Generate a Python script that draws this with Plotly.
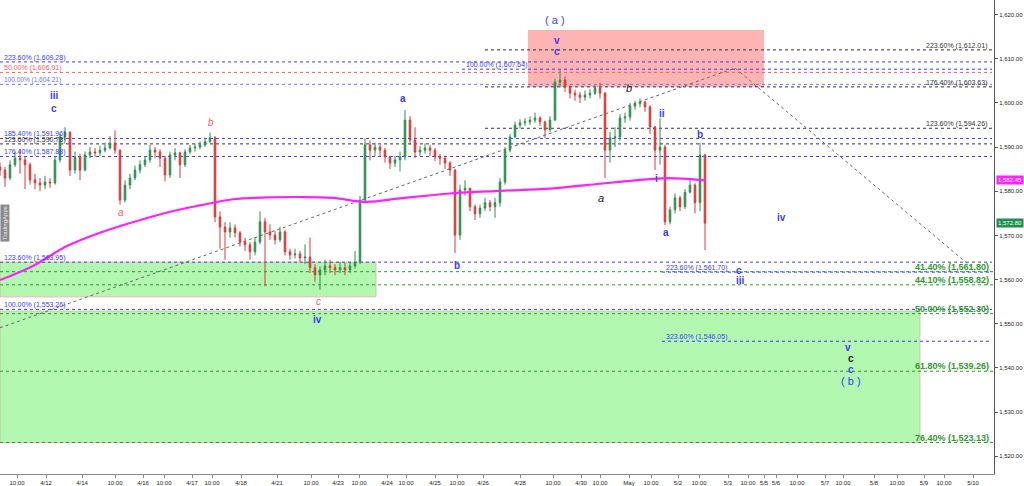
import plotly.graph_objects as go

# ---------------- data ----------------
# candle closes (bar slots every 5 units on the compressed time axis)
closes = [1584.8, 1583.0, 1586.0, 1587.5, 1587.1, 1586.0, 1582.6, 1581.9, 1581.4, 1582.1,
          1581.9, 1587.1, 1592.3, 1593.4, 1584.8, 1587.8, 1584.8, 1588.2, 1588.9, 1588.7,
          1589.3, 1589.8, 1590.9, 1589.3, 1578.0, 1581.4, 1583.0, 1584.8, 1586.0, 1587.1,
          1589.3, 1588.9, 1587.5, 1583.7, 1588.2, 1588.7, 1586.0, 1588.9, 1589.8, 1590.0,
          1590.5, 1591.2, 1592.1, 1574.2, 1571.9, 1570.8, 1571.7, 1570.6, 1568.5, 1567.9,
          1566.3, 1568.5, 1573.1, 1570.8, 1570.1, 1569.0, 1570.8, 1566.3, 1565.6, 1565.8,
          1564.9, 1565.1, 1562.7, 1561.1, 1562.2, 1563.1, 1562.7, 1562.2, 1562.7, 1562.2,
          1563.1, 1564.0, 1578.0, 1590.5, 1589.3, 1590.0, 1589.3, 1587.8, 1586.4, 1587.1,
          1587.8, 1596.1, 1591.6, 1588.9, 1589.3, 1589.8, 1589.3, 1587.8, 1587.5, 1586.4,
          1584.8, 1570.1, 1580.3, 1580.7, 1576.5, 1574.9, 1576.2, 1577.4, 1576.5, 1577.4,
          1582.1, 1589.3, 1592.3, 1595.0, 1595.5, 1595.7, 1596.1, 1596.6, 1595.7, 1593.9,
          1596.1, 1604.7, 1605.2, 1603.6, 1602.2, 1601.8, 1601.3, 1601.8, 1602.2, 1603.4,
          1602.2, 1589.3, 1592.1, 1592.3, 1596.6, 1596.8, 1599.3, 1599.8, 1600.2, 1599.1,
          1594.6, 1589.3, 1590.0, 1573.1, 1575.8, 1578.5, 1576.5, 1579.8, 1581.4, 1577.4,
          1588.2, 1572.8]
highs = [1586.5, 1585.5, 1587.0, 1589.0, 1589.5, 1588.0, 1586.5, 1584.0, 1583.0, 1583.5,
         1583.0, 1588.0, 1593.0, 1594.5, 1593.5, 1589.0, 1588.5, 1589.0, 1590.0, 1589.8,
         1590.3, 1591.0, 1592.5, 1593.8, 1589.5, 1582.5, 1584.0, 1585.8, 1587.0, 1588.0,
         1590.5, 1590.0, 1589.5, 1588.0, 1589.0, 1589.8, 1589.0, 1589.5, 1590.5, 1590.8,
         1591.3, 1592.0, 1593.3, 1592.5, 1575.5, 1573.0, 1573.0, 1572.5, 1571.0, 1569.5,
         1568.5, 1569.5, 1575.5, 1574.0, 1572.5, 1571.0, 1572.0, 1571.2, 1567.0, 1567.0,
         1566.5, 1568.0, 1569.5, 1563.5, 1563.0, 1564.5, 1564.5, 1563.5, 1564.0, 1563.8,
         1564.0, 1566.5, 1579.0, 1592.0, 1591.5, 1591.0, 1590.5, 1589.8, 1588.0, 1588.0,
         1589.0, 1598.4, 1597.0, 1594.5, 1590.3, 1590.8, 1590.5, 1589.8, 1588.5, 1588.0,
         1586.8, 1585.0, 1581.5, 1582.5, 1580.5, 1577.0, 1577.0, 1578.5, 1578.0, 1578.5,
         1583.0, 1590.0, 1593.0, 1595.8, 1596.3, 1596.5, 1597.0, 1597.8, 1597.0, 1596.0,
         1597.0, 1605.5, 1607.4, 1606.0, 1604.0, 1603.0, 1602.5, 1602.8, 1603.2, 1604.0,
         1604.5, 1602.5, 1593.5, 1594.5, 1597.5, 1597.8, 1600.0, 1600.5, 1601.0, 1600.5,
         1599.5, 1592.5, 1596.5, 1590.5, 1576.5, 1579.5, 1579.0, 1580.5, 1582.8, 1581.8,
         1591.0, 1588.5]
lows = [1583.5, 1581.0, 1582.5, 1585.5, 1584.0, 1580.5, 1581.5, 1580.5, 1580.0, 1580.5,
        1580.8, 1581.5, 1586.5, 1591.5, 1583.5, 1584.0, 1582.5, 1584.5, 1587.5, 1587.8,
        1588.0, 1588.8, 1589.5, 1588.5, 1577.0, 1577.5, 1580.5, 1582.5, 1584.0, 1585.5,
        1586.5, 1587.5, 1585.5, 1582.2, 1583.0, 1587.0, 1583.0, 1585.5, 1588.5, 1589.0,
        1589.5, 1590.0, 1591.0, 1573.0, 1567.0, 1564.5, 1569.5, 1569.5, 1567.5, 1566.5,
        1564.5, 1565.5, 1568.0, 1558.5, 1569.0, 1568.0, 1568.5, 1565.5, 1564.5, 1564.8,
        1564.0, 1563.5, 1561.5, 1559.5, 1557.7, 1561.0, 1561.5, 1561.0, 1561.5, 1561.0,
        1561.5, 1562.5, 1563.5, 1577.5, 1587.0, 1588.0, 1588.0, 1586.5, 1585.0, 1585.5,
        1584.5, 1587.0, 1590.5, 1587.5, 1588.0, 1588.5, 1588.0, 1586.8, 1586.0, 1585.0,
        1583.5, 1566.0, 1569.0, 1579.0, 1575.5, 1573.5, 1574.0, 1575.5, 1575.5, 1574.0,
        1576.5, 1581.5, 1588.8, 1592.0, 1594.2, 1594.8, 1595.0, 1595.5, 1594.8, 1592.0,
        1593.5, 1596.0, 1603.5, 1602.5, 1601.0, 1600.5, 1600.0, 1600.5, 1601.0, 1601.8,
        1601.0, 1583.0, 1586.5, 1590.0, 1591.5, 1595.5, 1596.0, 1598.5, 1599.0, 1598.0,
        1593.0, 1584.8, 1586.0, 1572.3, 1572.5, 1575.0, 1575.5, 1576.0, 1579.5, 1575.0,
        1575.5, 1566.7]
first_open = 1585.5
bar_step = 5

# moving average (magenta)
ma_x = [0, 33, 67, 100, 133, 167, 200, 233, 267, 300, 333, 367, 400, 450, 500, 550, 600, 633, 667, 705]
ma_y = [1559.9, 1563.1, 1567.6, 1570.6, 1573.0, 1575.2, 1576.8, 1578.2, 1578.6, 1578.7,
        1578.5, 1577.6, 1578.4, 1579.5, 1580.1, 1580.6, 1581.7, 1582.4, 1583.0, 1582.45]

# dotted trend lines
trend_x = [0, 735, 975]
trend_y = [1549.1, 1607.9, 1562.2]

# x-axis tick labels
tick_pos = [17, 46, 82, 115, 143, 164, 192, 212, 241, 277, 311, 338, 359, 387, 406, 435, 457, 483,
            520, 553, 581, 600, 629, 651, 678, 699, 728, 748, 764, 776, 797, 825, 843, 874, 897,
            924, 944, 973]
tick_txt = ["10:00", "4/12", "4/14", "10:00", "4/16", "10:00", "4/17", "10:00", "4/18", "4/21",
            "10:00", "4/23", "10:00", "4/24", "10:00", "4/25", "10:00", "4/26", "4/28", "10:00",
            "4/30", "10:00", "May", "10:00", "5/2", "10:00", "5/3", "10:00", "5/5", "5/6", "10:00",
            "5/7", "10:00", "5/8", "10:00", "5/9", "10:00", "5/10"]

# fibonacci levels
left_prices = [1609.28, 1606.91, 1604.21, 1591.96, 1590.73, 1587.88, 1563.95, 1553.26]
left_labels = ["223.60% (1,609.28)", "50.00% (1,606.91)", "100.00% (1,604.21)", "185.40% (1,591.96)",
               "123.60% (1,590.73)", "176.40% (1,587.88)", "123.60% (1,563.95)", "100.00% (1,553.26)"]
left_kind = ["blue", "red", "lblue", "blue", "black", "blue", "blue", "blue"]

right_prices = [1612.01, 1603.63, 1594.26]
right_labels = ["223.60% (1,612.01)", "176.40% (1,603.63)", "123.60% (1,594.26)"]

mid_prices = [1607.64, 1561.70, 1546.05]
mid_labels = ["100.00% (1,607.64)", "223.60% (1,561.70)", "323.60% (1,546.05)"]
mid_start = [462, 662, 662]

green_prices = [1561.80, 1558.82, 1552.30, 1539.26, 1523.13]
green_labels = ["41.40% (1,561.80)", "44.10% (1,558.82)", "50.00% (1,552.30)",
                "61.80% (1,539.26)", "76.40% (1,523.13)"]

# zones  (x0, x1, y0, y1)
red_zone = (528, 764, 1603.6, 1616.5)
green_zones = [(0, 376, 1556.1, 1563.95), (0, 920, 1523.13, 1552.9)]

# wave labels (text, x, y, colour key)
waves = [("iii", 54, 1601.6, "b"), ("c", 54, 1598.8, "b"),
         ("v", 557, 1614.2, "b"), ("c", 557, 1611.7, "b"),
         ("a", 403, 1601.1, "b"), ("b", 457, 1563.3, "b"), ("iv", 317, 1550.9, "b"),
         ("ii", 662, 1597.7, "b"), ("i", 656, 1583.0, "b"), ("a", 666, 1570.6, "b"),
         ("b", 700, 1592.9, "b"), ("iv", 781, 1574.0, "b"),
         ("c", 739, 1562.0, "b"), ("iii", 740, 1559.7, "b"),
         ("v", 848, 1544.6, "b"), ("c", 851, 1542.1, "k"), ("c", 851, 1539.6, "b"),
         ("b", 211, 1595.5, "r"), ("a", 121, 1575.3, "r"), ("c", 318, 1555.0, "r"),
         ("a", 601, 1578.5, "ki"), ("b", 629, 1603.4, "ki")]
big_waves = [("( a )", 555, 1618.8), ("( b )", 851, 1537.1)]

last_price = 1572.80
ma_last = 1582.45

# ---------------- figure ----------------
BLUE = "#3a3aff"
LBLUE = "#7070ff"
RED = "#ff5a5a"
BLACK = "#333333"
GREEN = "#2e9a2e"
FONT = "Liberation Sans"
X_END = 994

xs = [i * bar_step for i in range(len(closes))]
opens = [first_open] + closes[:-1]

fig = go.Figure()

shapes = []
rx0, rx1, ry0, ry1 = red_zone
shapes.append(dict(type="rect", xref="x", yref="y", x0=rx0, x1=rx1, y0=ry0, y1=ry1,
                   fillcolor="#ffb4b4", line=dict(width=0), layer="below"))
for gx0, gx1, gy0, gy1 in green_zones:
    shapes.append(dict(type="rect", xref="x", yref="y", x0=gx0, x1=gx1, y0=gy0, y1=gy1,
                       fillcolor="#b3f8b0", line=dict(width=1, color="rgba(240,160,160,0.7)"),
                       layer="below"))

col_map = {"blue": BLUE, "red": RED, "lblue": LBLUE, "black": BLACK}
for p in green_prices:
    shapes.append(dict(type="line", xref="x", yref="y", x0=0, x1=X_END, y0=p, y1=p,
                       line=dict(color=GREEN, width=1, dash="dot"), layer="below"))
for p, k in zip(left_prices, left_kind):
    shapes.append(dict(type="line", xref="x", yref="y", x0=0, x1=X_END - 2, y0=p, y1=p,
                       line=dict(color=col_map[k], width=1, dash="dot"), layer="below"))
for p in right_prices:
    shapes.append(dict(type="line", xref="x", yref="y", x0=485, x1=X_END - 2, y0=p, y1=p,
                       line=dict(color=BLACK, width=1, dash="dot"), layer="below"))
for p, s in zip(mid_prices, mid_start):
    shapes.append(dict(type="line", xref="x", yref="y", x0=s, x1=X_END - 2, y0=p, y1=p,
                       line=dict(color=BLUE, width=1, dash="dot"), layer="below"))

# trend lines
fig.add_trace(go.Scatter(x=trend_x, y=trend_y, mode="lines",
                         line=dict(color="#666666", width=1, dash="dot"),
                         hoverinfo="skip", showlegend=False))

# candles
fig.add_trace(go.Candlestick(x=xs, open=opens, high=highs, low=lows, close=closes,
                             increasing=dict(line=dict(color="#2f8f4f", width=1), fillcolor="#2f8f4f"),
                             decreasing=dict(line=dict(color="#d83a3a", width=1), fillcolor="#d83a3a"),
                             whiskerwidth=0, showlegend=False))

# moving average
fig.add_trace(go.Scatter(x=ma_x, y=ma_y, mode="lines", line=dict(color="#ff22ff", width=2.2, shape="spline"),
                         hoverinfo="skip", showlegend=False))

ann = []
for p, t, k in zip(left_prices, left_labels, left_kind):
    ann.append(dict(x=2, y=p, xref="x", yref="y", text=t, showarrow=False, xanchor="left",
                    yanchor="bottom", yshift=-2,
                    font=dict(family=FONT, size=6.5 if k == "lblue" else 7, color=col_map[k])))
for p, t in zip(right_prices, right_labels):
    ann.append(dict(x=990, y=p, xref="x", yref="y", text=t, showarrow=False, xanchor="right",
                    yanchor="bottom", yshift=-2, font=dict(family=FONT, size=7, color=BLACK)))
for p, t, s in zip(mid_prices, mid_labels, mid_start):
    ann.append(dict(x=s + 2, y=p, xref="x", yref="y", text=t, showarrow=False, xanchor="left",
                    yanchor="bottom", yshift=-2, font=dict(family=FONT, size=7, color=BLUE)))
for p, t in zip(green_prices, green_labels):
    ann.append(dict(x=991, y=p, xref="x", yref="y", text="<b>" + t + "</b>", showarrow=False,
                    xanchor="right", yanchor="bottom", yshift=-2,
                    font=dict(family=FONT, size=9, color=GREEN)))

wcol = {"b": BLUE, "r": RED, "k": "#222222", "ki": "#222222"}
for t, x, y, k in waves:
    txt = "<i>" + t + "</i>" if k in ("r", "ki") else "<b>" + t + "</b>"
    ann.append(dict(x=x, y=y, xref="x", yref="y", text=txt, showarrow=False,
                    font=dict(family=FONT, size=10 if k != "ki" else 11, color=wcol[k])))
for t, x, y in big_waves:
    ann.append(dict(x=x, y=y, xref="x", yref="y", text=t, showarrow=False,
                    font=dict(family=FONT, size=11, color=BLUE)))

# price tags
ann.append(dict(x=1.0, y=ma_last, xref="paper", yref="y", text=f"{ma_last:,.2f}", showarrow=False,
                xanchor="left", bgcolor="#ff22ff", font=dict(family=FONT, size=6, color="white"),
                borderpad=1, xshift=2))
ann.append(dict(x=1.0, y=last_price, xref="paper", yref="y", text=f"{last_price:,.2f}", showarrow=False,
                xanchor="left", bgcolor="#1f8f4f", font=dict(family=FONT, size=6, color="white"),
                borderpad=1, xshift=2))
# watermark
ann.append(dict(x=0, y=1572.8, xref="paper", yref="y", text="TradingApps", showarrow=False,
                xanchor="left", textangle=-90, bgcolor="#8a8a8a",
                font=dict(family=FONT, size=6, color="#eeeeee"), borderpad=1))

fig.update_layout(
    width=1024, height=486,
    margin=dict(l=0, r=30, t=0, b=12),
    paper_bgcolor="white", plot_bgcolor="white",
    shapes=shapes, annotations=ann, showlegend=False, boxgap=0.55,
    xaxis=dict(range=[0, X_END], rangeslider=dict(visible=False), showgrid=False, zeroline=False,
               tickmode="array", tickvals=tick_pos, ticktext=tick_txt, ticks="outside", ticklen=3,
               tickcolor="#888888", showline=True, linecolor="#888888", linewidth=1,
               tickfont=dict(family=FONT, size=6, color="#222222")),
    yaxis=dict(range=[1516.0, 1623.3], side="right", showgrid=False, zeroline=False,
               tick0=1520, dtick=10, tickformat=",.2f", ticks="outside", ticklen=3,
               tickcolor="#555555", showline=True, linecolor="#555555", linewidth=1,
               tickfont=dict(family=FONT, size=6, color="#222222")),
)

fig.write_html("out.html", config={"displayModeBar": False},
               post_script="document.body.style.margin='0';document.body.style.overflow='hidden';")
